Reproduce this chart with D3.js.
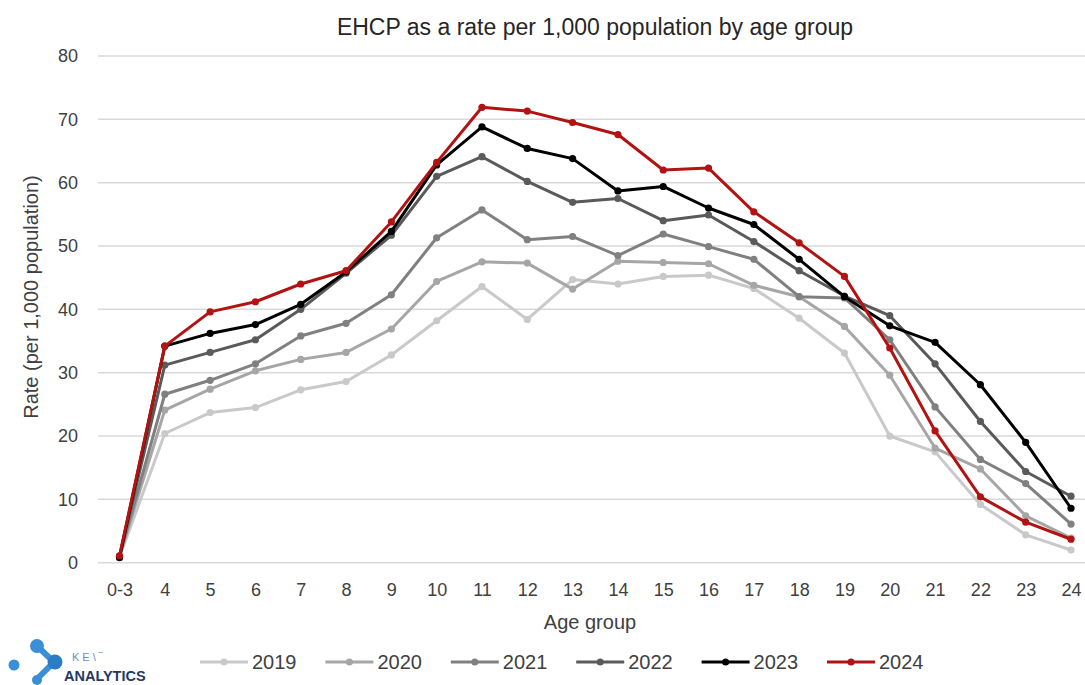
<!DOCTYPE html>
<html>
<head>
<meta charset="utf-8">
<script src="https://cdn.jsdelivr.net/npm/d3@7/dist/d3.min.js"></script>
<style>
  html, body { margin: 0; padding: 0; background: #fff; }
  svg { display: block; font-family: "Liberation Sans", Arial, sans-serif; }
</style>
</head>
<body>
<svg id="chart" width="1085" height="685"></svg>
<script>
// Age groups on the x axis
const ages = ["0-3","4","5","6","7","8","9","10","11","12","13","14","15","16","17","18","19","20","21","22","23","24"];

// EHCP rate per 1,000 population, one array per year
const rate2019 = [0.9, 20.4, 23.7, 24.5, 27.3, 28.6, 32.8, 38.2, 43.6, 38.4, 44.7, 44.0, 45.2, 45.4, 43.3, 38.6, 33.1, 20.0, 17.5, 9.2, 4.4, 2.0];
const rate2020 = [1.0, 24.1, 27.4, 30.3, 32.1, 33.2, 36.9, 44.4, 47.5, 47.3, 43.2, 47.6, 47.4, 47.2, 43.8, 42.0, 37.3, 29.6, 18.1, 14.8, 7.4, 3.9];
const rate2021 = [1.0, 26.6, 28.8, 31.4, 35.8, 37.8, 42.3, 51.3, 55.7, 51.0, 51.5, 48.5, 51.9, 49.9, 47.9, 42.0, 41.8, 35.2, 24.6, 16.3, 12.5, 6.1];
const rate2022 = [1.0, 31.2, 33.2, 35.2, 40.0, 45.7, 51.7, 61.0, 64.1, 60.2, 56.9, 57.5, 54.0, 54.9, 50.7, 46.1, 42.1, 39.0, 31.4, 22.3, 14.4, 10.5];
const rate2023 = [0.8, 34.2, 36.2, 37.6, 40.8, 45.9, 52.3, 62.8, 68.8, 65.4, 63.8, 58.7, 59.4, 56.0, 53.4, 47.9, 42.0, 37.4, 34.8, 28.1, 19.0, 8.6];
const rate2024 = [1.1, 34.2, 39.6, 41.2, 44.0, 46.1, 53.8, 63.2, 71.9, 71.3, 69.5, 67.6, 62.0, 62.3, 55.4, 50.5, 45.2, 33.9, 20.8, 10.4, 6.4, 3.7];

const years = ["2019","2020","2021","2022","2023","2024"];
const yTicks = [0, 10, 20, 30, 40, 50, 60, 70, 80];

const seriesColors = ["#c9c9c9", "#a6a6a6", "#808080", "#5a5a5a", "#000000", "#b31212"];
const series = [rate2019, rate2020, rate2021, rate2022, rate2023, rate2024]
  .map((values, i) => ({ year: years[i], values, color: seriesColors[i] }));

const svg = d3.select("#chart");
const textColor = "#404040";

const plot = { left: 98, right: 1085, top: 56, bottom: 562.7 };

const x = d3.scalePoint().domain(ages).range([119.5, 1071]);
const y = d3.scaleLinear().domain([0, 80]).range([plot.bottom, plot.top]);

// Horizontal gridlines
svg.append("g")
  .selectAll("line")
  .data(yTicks)
  .join("line")
  .attr("x1", plot.left).attr("x2", plot.right)
  .attr("y1", d => y(d)).attr("y2", d => y(d))
  .attr("stroke", "#d9d9d9").attr("stroke-width", 1.5);

// Y axis tick labels
const yAxis = svg.append("g")
  .attr("transform", `translate(${plot.left - 20},0)`)
  .call(d3.axisLeft(y).tickValues(yTicks).tickSize(0).tickPadding(0));
yAxis.select(".domain").remove();
yAxis.selectAll("text")
  .attr("fill", textColor).style("font-size", "18px")
  .style("font-family", "'Liberation Sans', Arial, sans-serif");

// X axis tick labels
const xAxis = svg.append("g")
  .attr("transform", `translate(0,${plot.bottom + 21})`)
  .call(d3.axisBottom(x).tickSize(0).tickPadding(0));
xAxis.select(".domain").remove();
xAxis.selectAll("text")
  .attr("fill", textColor).style("font-size", "18px")
  .style("font-family", "'Liberation Sans', Arial, sans-serif");

// Lines and markers
const line = d3.line()
  .x((d, i) => x(ages[i]))
  .y(d => y(d));

const seriesG = svg.append("g");
series.forEach(s => {
  const g = seriesG.append("g");
  g.append("path")
    .attr("d", line(s.values))
    .attr("fill", "none")
    .attr("stroke", s.color)
    .attr("stroke-width", 3)
    .attr("stroke-linejoin", "round");
  g.selectAll("circle")
    .data(s.values)
    .join("circle")
    .attr("cx", (d, i) => x(ages[i]))
    .attr("cy", d => y(d))
    .attr("r", 3.6)
    .attr("fill", s.color);
});

// Title
svg.append("text")
  .attr("x", 595).attr("y", 35)
  .attr("text-anchor", "middle")
  .attr("fill", "#262626")
  .style("font-size", "23px")
  .text("EHCP as a rate per 1,000 population by age group");

// Axis titles
svg.append("text")
  .attr("x", 590).attr("y", 629)
  .attr("text-anchor", "middle")
  .attr("fill", textColor)
  .style("font-size", "20px")
  .text("Age group");

svg.append("text")
  .attr("transform", "translate(38,297) rotate(-90)")
  .attr("text-anchor", "middle")
  .attr("fill", textColor)
  .style("font-size", "20px")
  .text("Rate (per 1,000 population)");

// Legend
const legend = svg.append("g").attr("transform", "translate(200,662)");
series.forEach((s, i) => {
  const g = legend.append("g").attr("transform", `translate(${i * 125.4},0)`);
  g.append("line")
    .attr("x1", 0).attr("x2", 48)
    .attr("stroke", s.color).attr("stroke-width", 3);
  g.append("circle").attr("cx", 24).attr("r", 3.5).attr("fill", s.color);
  g.append("text")
    .attr("x", 52).attr("y", 7)
    .attr("fill", textColor)
    .style("font-size", "20px")
    .text(s.year);
});

// Kent Analytics logo
const logo = svg.append("g");
const blue = "#3a8fd6";
logo.append("path")
  .attr("d", "M37,646 L54,662 L37,679")
  .attr("fill", "none").attr("stroke", blue).attr("stroke-width", 6).attr("stroke-linecap", "round");
logo.append("circle").attr("cx", 14).attr("cy", 665).attr("r", 5.5).attr("fill", blue);
logo.append("circle").attr("cx", 37).attr("cy", 646).attr("r", 7).attr("fill", blue);
logo.append("circle").attr("cx", 55).attr("cy", 662).attr("r", 7.5).attr("fill", "#2a7cc7");
logo.append("circle").attr("cx", 37).attr("cy", 680).attr("r", 5).attr("fill", blue);
logo.append("text")
  .attr("x", 72).attr("y", 661)
  .attr("fill", "#6b8fb8")
  .style("font-size", "11px")
  .style("letter-spacing", "3px")
  .text("KE\\‾");
logo.append("text")
  .attr("x", 64).attr("y", 681)
  .attr("fill", "#1f3a63")
  .style("font-size", "14.5px")
  .style("font-weight", "bold")
  .text("ANALYTICS");
</script>
</body>
</html>
